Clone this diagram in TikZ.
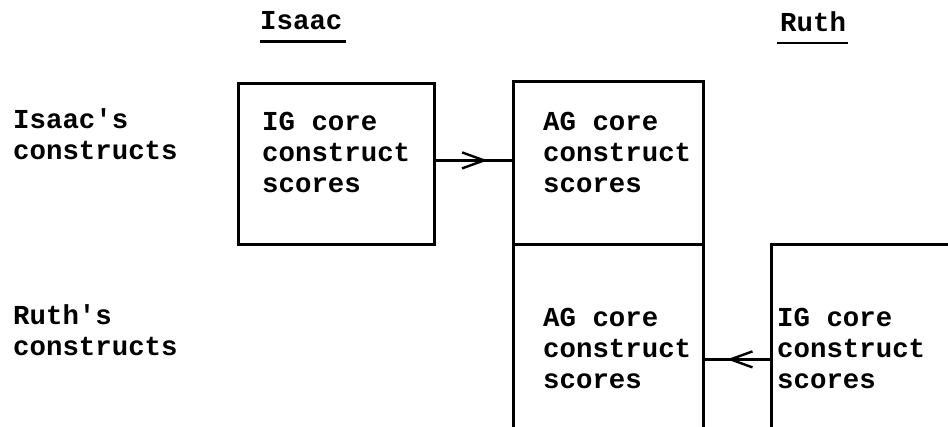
\documentclass[tikz,border=0pt]{standalone}
\usepackage{fontspec}
\newfontfamily\tw{Liberation Mono}
\usetikzlibrary{arrows.meta,decorations.markings}
\begin{document}
\begin{tikzpicture}[x=1pt,y=1pt,
  txt/.style={font=\tw\bfseries\fontsize{27.4pt}{31pt}\selectfont, align=left, anchor=base west, inner sep=0pt},
  boxnode/.style={draw, line width=2.8pt, inner sep=0pt, anchor=north west},
  uline/.style={line width=2.6pt},
  flow/.style={line width=2.4pt, postaction={decorate},
    decoration={markings, mark=at position #1 with {\arrow{Straight Barb[length=22pt,width=16pt,line width=2.4pt]}}}}
]
\useasboundingbox (0,0) rectangle (948,427);
\clip (0,0) rectangle (948,427);

% boxes
\node[boxnode, minimum width=196pt, minimum height=161pt] (igi) at (237,345) {};
\node[boxnode, minimum width=190pt, minimum height=163pt] (agi) at (512,347) {};
\node[boxnode, minimum width=190pt, minimum height=240pt] (agr) at (512,184) {};
\node[boxnode, minimum width=260pt, minimum height=240pt] (igr) at (770,184) {};

% titles
\node[txt] (tisaac) at (260,397) {Isaac};
\node[txt] (truth) at (780,395) {Ruth};
\draw[uline] ([yshift=-11.5pt]tisaac.base west) -- ([xshift=3pt,yshift=-11.5pt]tisaac.base east);
\draw[uline] ([xshift=-3pt,yshift=-11pt]truth.base west) -- ([xshift=2pt,yshift=-11pt]truth.base east);

% row labels (base anchor = last line)
\node[txt] (lisaac) at (13,267) {Isaac's\\constructs};
\node[txt] (lruth) at (13,71) {Ruth's\\constructs};

% box texts
\node[txt] (tigi) at (262,234) {IG core\\construct\\scores};
\node[txt] (tagi) at (543,234) {AG core\\construct\\scores};
\node[txt] (tagr) at (543,38) {AG core\\construct\\scores};
\node[txt] (tigr) at (777,38) {IG core\\construct\\scores};

% connectors
\coordinate (a1) at ([yshift=3.5pt]igi.east);
\draw[flow=0.68] (a1) -- (a1 -| agi.west);
\coordinate (a2) at ([yshift=5pt]igr.west);
\draw[flow=0.66] (a2) -- (a2 -| agr.east);
\end{tikzpicture}
\end{document}
